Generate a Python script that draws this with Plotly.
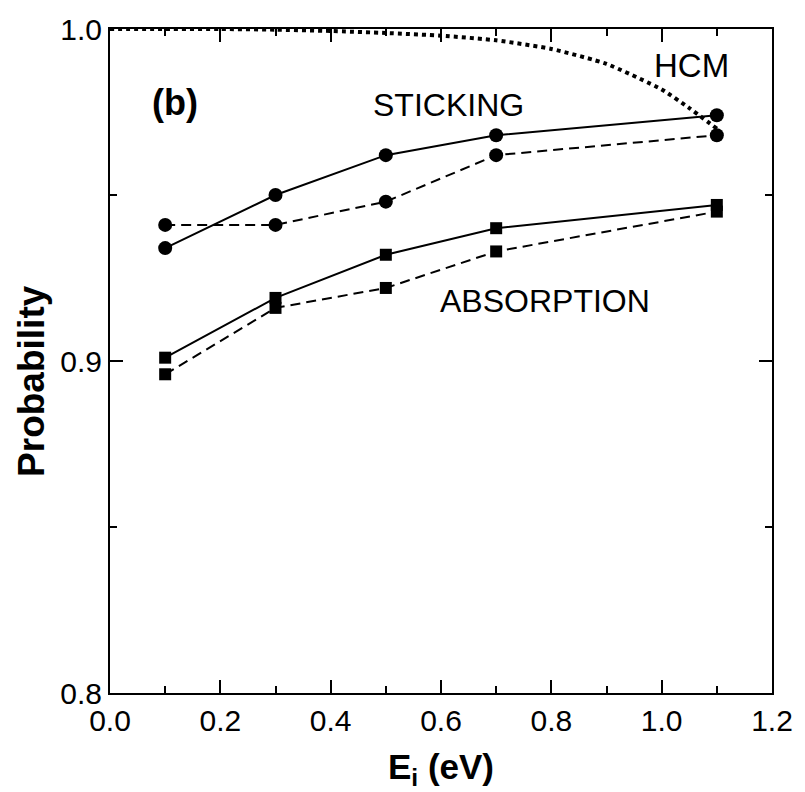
import plotly.graph_objects as go

# Incident energies (eV)
energy = [0.1, 0.3, 0.5, 0.7, 1.1]

# Sticking probability (circles): solid and dashed series
sticking_solid = [0.934, 0.950, 0.962, 0.968, 0.974]
sticking_dashed = [0.941, 0.941, 0.948, 0.962, 0.968]

# Absorption probability (squares): solid and dashed series
absorption_solid = [0.901, 0.919, 0.932, 0.940, 0.947]
absorption_dashed = [0.896, 0.916, 0.922, 0.933, 0.945]

# HCM curve (dotted)
hcm_energy = [0.0, 0.1, 0.2, 0.3, 0.4, 0.5, 0.6, 0.7, 0.8, 0.9, 1.0, 1.05, 1.1]
hcm_prob = [1.000, 1.000, 1.000, 0.9998, 0.9994, 0.9988, 0.9980, 0.9966,
            0.9940, 0.9895, 0.9818, 0.9762, 0.9700]

FONT = "Arial, Liberation Sans, Helvetica, sans-serif"
BLACK = "#000000"

fig = go.Figure()

fig.add_trace(go.Scatter(
    x=hcm_energy, y=hcm_prob, mode="lines",
    line=dict(color=BLACK, width=4, dash="dot", shape="spline", smoothing=0.5),
    cliponaxis=False, showlegend=False,
))

for ys, dash, symbol, size in [
    (sticking_solid, "solid", "circle", 14),
    (sticking_dashed, "10px,6px", "circle", 14),
    (absorption_solid, "solid", "square", 12),
    (absorption_dashed, "10px,6px", "square", 12),
]:
    fig.add_trace(go.Scatter(
        x=energy, y=ys, mode="lines+markers",
        line=dict(color=BLACK, width=2, dash=dash),
        marker=dict(symbol=symbol, size=size, color=BLACK),
        cliponaxis=False, showlegend=False,
    ))

annotations = [
    dict(x=0.117, y=0.978, text="<b>(b)</b>", font=dict(size=36)),
    dict(x=0.614, y=0.977, text="STICKING", font=dict(size=32)),
    dict(x=1.054, y=0.989, text="HCM", font=dict(size=33)),
    dict(x=0.789, y=0.918, text="ABSORPTION", font=dict(size=32)),
]
for a in annotations:
    a.update(xref="x", yref="y", showarrow=False, xanchor="center", yanchor="middle")
    a["font"].update(family=FONT, color=BLACK)

# Axis titles
annotations.append(dict(
    xref="paper", yref="paper", x=0.5, y=0, yanchor="top", xanchor="center",
    yshift=-52, showarrow=False,
    text="<b>E<sub>i</sub> (eV)</b>", font=dict(family=FONT, size=35, color=BLACK),
))
annotations.append(dict(
    xref="paper", yref="y", x=0, y=0.894, xanchor="center", yanchor="middle",
    xshift=-78, showarrow=False, textangle=-90,
    text="<b>Probability</b>", font=dict(family=FONT, size=37, color=BLACK),
))

axis_common = dict(
    showline=True, linecolor=BLACK, linewidth=2, mirror="ticks",
    ticks="inside", ticklen=13, tickwidth=2, tickcolor=BLACK,
    showgrid=False, zeroline=False,
    tickfont=dict(family=FONT, size=30, color=BLACK),
)

fig.update_layout(
    width=805, height=792,
    margin=dict(l=110, r=27, t=28, b=99),
    paper_bgcolor="white", plot_bgcolor="white",
    annotations=annotations,
    xaxis=dict(
        range=[0, 1.2], tick0=0, dtick=0.2, tickformat=".1f",
        minor=dict(ticks="inside", ticklen=7, tickwidth=2, tickcolor=BLACK, dtick=0.1, tick0=0),
        ticklabelstandoff=0,
        **axis_common,
    ),
    yaxis=dict(
        range=[0.8, 1.0], tickvals=[0.8, 0.9, 1.0], tickformat=".1f",
        minor=dict(ticks="inside", ticklen=7, tickwidth=2, tickcolor=BLACK, tickvals=[0.85, 0.95]),
        **axis_common,
    ),
)

fig.write_html("out.html")
